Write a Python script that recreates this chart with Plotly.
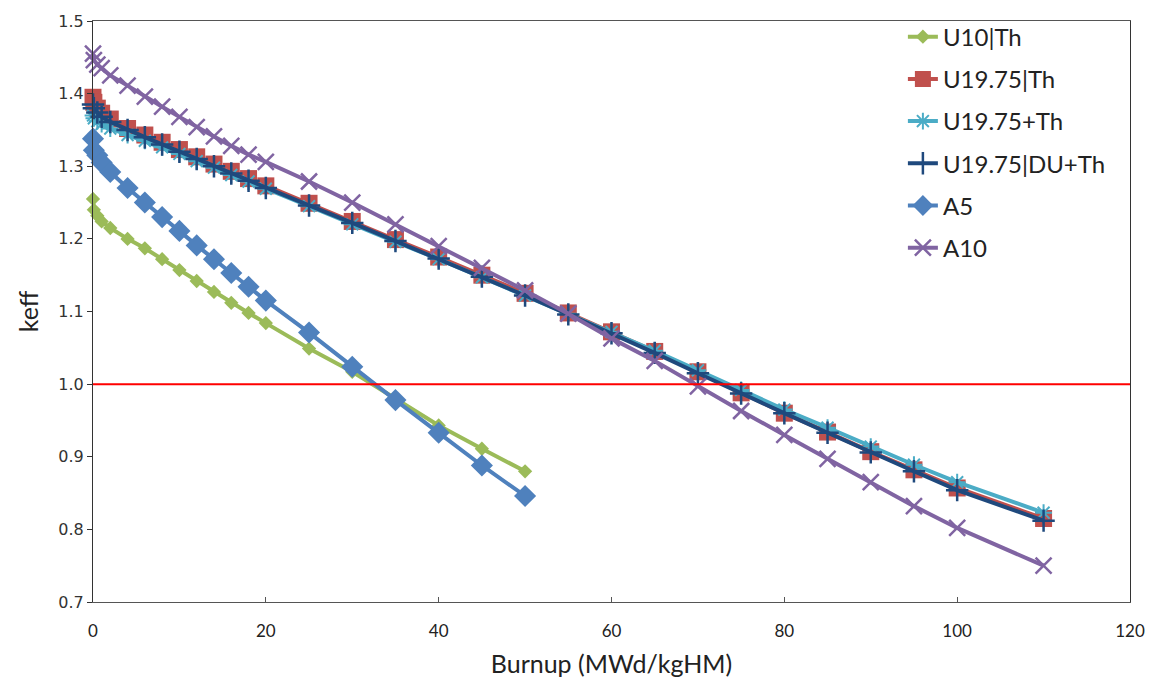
import plotly.graph_objects as go

# Burnup grids (MWd/kgHM)
burnup_short = [0, 0.1, 0.5, 1, 2, 4, 6, 8, 10, 12, 14, 16, 18, 20, 25, 30, 35, 40, 45, 50]
burnup_long = [0, 0.1, 0.5, 1, 2, 4, 6, 8, 10, 12, 14, 16, 18, 20, 25, 30, 35, 40, 45, 50,
               55, 60, 65, 70, 75, 80, 85, 90, 95, 100, 110]

# keff values
u10_th = [1.255, 1.240, 1.232, 1.224, 1.215, 1.200, 1.187, 1.172, 1.157, 1.142, 1.127,
          1.112, 1.098, 1.084, 1.049, 1.017, 0.980, 0.943, 0.911, 0.880]
a5 = [1.338, 1.322, 1.315, 1.305, 1.292, 1.270, 1.250, 1.230, 1.211, 1.191, 1.172,
      1.153, 1.134, 1.115, 1.071, 1.024, 0.978, 0.933, 0.888, 0.846]
u1975_th = [1.395, 1.388, 1.380, 1.373, 1.365, 1.352, 1.343, 1.333, 1.323, 1.313, 1.303,
            1.293, 1.283, 1.273, 1.249, 1.224, 1.199, 1.175, 1.150, 1.125,
            1.098, 1.072, 1.045, 1.017, 0.988, 0.960, 0.934, 0.907, 0.882, 0.857, 0.815]
u1975_plus_th = [1.370, 1.366, 1.362, 1.358, 1.352, 1.343, 1.335, 1.326, 1.317, 1.307, 1.298,
                 1.288, 1.279, 1.269, 1.245, 1.220, 1.196, 1.172, 1.147, 1.122,
                 1.097, 1.072, 1.046, 1.019, 0.992, 0.965, 0.940, 0.914, 0.889, 0.865, 0.823]
u1975_du_th = [1.385, 1.380, 1.374, 1.368, 1.361, 1.350, 1.340, 1.330, 1.320, 1.310, 1.300,
               1.290, 1.280, 1.270, 1.246, 1.222, 1.197, 1.173, 1.148, 1.122,
               1.096, 1.070, 1.043, 1.015, 0.987, 0.960, 0.933, 0.906, 0.880, 0.854, 0.812]
a10 = [1.455, 1.446, 1.440, 1.435, 1.425, 1.411, 1.396, 1.382, 1.368, 1.354, 1.341,
       1.328, 1.316, 1.306, 1.279, 1.250, 1.220, 1.190, 1.160, 1.129,
       1.097, 1.063, 1.032, 0.997, 0.963, 0.930, 0.897, 0.865, 0.832, 0.802, 0.750]

criticality_x = [0, 120]
criticality_y = [1.0, 1.0]

fig = go.Figure()

series = [
    ("U10|Th", burnup_short, u10_th, "#9BBB59", dict(symbol="diamond", size=11)),
    ("U19.75|Th", burnup_long, u1975_th, "#C0504D", dict(symbol="square", size=17)),
    ("U19.75+Th", burnup_long, u1975_plus_th, "#4BACC6",
     dict(symbol="asterisk-open", size=14, line=dict(width=2, color="#4BACC6"))),
    ("U19.75|DU+Th", burnup_long, u1975_du_th, "#1F497D",
     dict(symbol="cross-thin-open", size=16, line=dict(width=2.5, color="#1F497D"))),
    ("A5", burnup_short, a5, "#4F81BD", dict(symbol="diamond", size=17)),
    ("A10", burnup_long, a10, "#8064A2",
     dict(symbol="x-thin-open", size=16, line=dict(width=2.5, color="#8064A2"))),
]

for name, xs, ys, color, mk in series:
    marker = dict(color=color, **mk)
    fig.add_trace(go.Scatter(
        x=xs, y=ys, name=name, mode="lines+markers",
        line=dict(color=color, width=4),
        marker=marker, legendgroup=name, cliponaxis=False,
    ))

fig.add_trace(go.Scatter(
    x=criticality_x, y=criticality_y, mode="lines",
    line=dict(color="#FF0000", width=2), showlegend=False, hoverinfo="skip",
))

fig.update_layout(
    width=1157, height=692,
    margin=dict(l=93, r=26, t=15, b=90),
    plot_bgcolor="white", paper_bgcolor="white",
    showlegend=True,
    legend=dict(
        x=0.781, y=1.011, xanchor="left", yanchor="top",
        font=dict(family="Lato", size=24, color="#222222"),
        bgcolor="rgba(255,255,255,0)",
        traceorder="grouped", tracegroupgap=8,
    ),
    xaxis=dict(
        range=[0, 120], dtick=20, tick0=0,
        showgrid=False, zeroline=False,
        showline=True, linecolor="#555555", linewidth=1, mirror=True,
        ticks="inside", ticklen=5, tickcolor="#555555",
        ticklabelstandoff=14,
        tickfont=dict(family="Lato", size=17, color="#222222"),
        title=dict(text="Burnup (MWd/kgHM)", font=dict(family="Lato", size=25, color="#222222"),
                   standoff=15),
    ),
    yaxis=dict(
        range=[0.7, 1.5], dtick=0.1, tick0=0.7, tickformat=".1f",
        showgrid=False, zeroline=False,
        showline=True, linecolor="#333333", linewidth=1, mirror=True,
        ticks="outside", ticklen=5, tickcolor="#333333",
        tickfont=dict(family="DejaVu Sans", size=16, color="#333333"),
        title=dict(text="keff", font=dict(family="Lato", size=25, color="#222222"),
                   standoff=12),
    ),
)

fig.write_html("out.html")
